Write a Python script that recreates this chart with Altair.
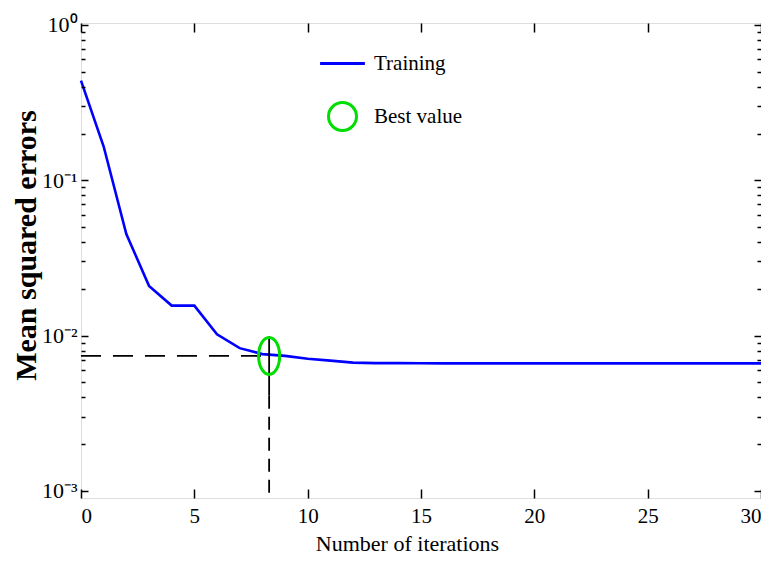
import altair as alt
import pandas as pd

# ---- data ----
iterations = list(range(31))
mse = [0.438, 0.165, 0.0451, 0.0209, 0.0156, 0.0156, 0.0102, 0.0083, 0.0076, 0.0074,
       0.0071, 0.0069, 0.0067, 0.00665, 0.00665, 0.00663, 0.00662, 0.00662, 0.00662,
       0.00662, 0.00662, 0.00662, 0.00662, 0.00662, 0.00662, 0.00662, 0.00662, 0.00662,
       0.00662, 0.00662, 0.00662]

best_x = 8.3
best_y = 0.0074
marker_line_top = 0.0099
marker_line_solid_end = 0.0041

x_domain = [0, 30]
y_domain = [0.0009, 1.03]

x_ticks = [0, 5, 10, 15, 20, 25, 30]
x_label_values = [0, 5, 10, 15, 20, 25]
x_last_label = [30]
y_major = [1, 0.1, 0.01, 0.001]
y_major_labels = ["10⁰", "10⁻¹", "10⁻²", "10⁻³"]
y_minor = [0.002, 0.003, 0.004, 0.005, 0.006, 0.007, 0.008, 0.009,
           0.02, 0.03, 0.04, 0.05, 0.06, 0.07, 0.08, 0.09,
           0.2, 0.3, 0.4, 0.5, 0.6, 0.7, 0.8, 0.9]

legend_names = ["Training", "Best value"]
legend_colors = ["#0000ff", "#00dd00"]

FONT = "Liberation Serif"
W, H = 680, 475

label_expr = " : ".join(
    f"datum.value == {v} ? '{t}'" for v, t in zip(y_major, y_major_labels)
) + " : ''"

xs = alt.Scale(domain=x_domain, nice=False, zero=False)
ys = alt.Scale(type="log", domain=y_domain, nice=False)


def tick_axis(orient, offset, values, size):
    return alt.Axis(orient=orient, offset=offset, values=values, labels=False,
                    ticks=True, tickSize=size, tickWidth=1.5, tickColor="black",
                    domain=False, grid=False, title=None, zindex=1)


curve = pd.DataFrame({"x": iterations, "y": mse})

line = alt.Chart(curve).mark_line(color="#0000ff", strokeWidth=2.6).encode(
    x=alt.X("x:Q", scale=xs, axis=alt.Axis(
        orient="bottom", values=x_label_values, format="d", ticks=False, domain=False,
        grid=False, labelFont=FONT, labelFontSize=21, labelColor="black", labelPadding=7,
        title="Number of iterations", titleFont=FONT, titleFontSize=22,
        titleFontWeight="normal", titleColor="black", titleX=326, titleY=52,
        titleBaseline="alphabetic")),
    y=alt.Y("y:Q", scale=ys, axis=alt.Axis(
        orient="left", values=y_major, labelExpr=label_expr, ticks=False, domain=False,
        grid=False, labelFont=FONT, labelFontSize=22, labelColor="black", labelPadding=4,
        title="Mean squared errors", titleFont=FONT, titleFontSize=30,
        titleFontWeight="bold", titleColor="black", titleY=222, titleX=-46,
        titleBaseline="alphabetic", titleAngle=270)),
)

hdf = pd.DataFrame({"x": [x_domain[0]], "x2": [best_x], "y": [best_y]})
hline = alt.Chart(hdf).mark_rule(color="black", strokeWidth=1.8, strokeDash=[20, 12]).encode(
    x=alt.X("x:Q", scale=xs, axis=tick_axis("top", -H, x_ticks, 9)),
    x2="x2:Q",
    y=alt.Y("y:Q", scale=ys, axis=tick_axis("right", -W, y_major, 7)),
)

vsdf = pd.DataFrame({"x": [best_x], "y": [marker_line_top], "y2": [marker_line_solid_end]})
vsolid = alt.Chart(vsdf).mark_rule(color="black", strokeWidth=1.8).encode(
    x=alt.X("x:Q", scale=xs, axis=tick_axis("bottom", -H, x_ticks, 9)),
    y=alt.Y("y:Q", scale=ys, axis=tick_axis("left", -W, y_major, 7)),
    y2="y2:Q",
)

vddf = pd.DataFrame({"x": [best_x], "y": [marker_line_solid_end], "y2": [y_domain[0]]})
vdash = alt.Chart(vddf).mark_rule(color="black", strokeWidth=1.8, strokeDash=[13, 8]).encode(
    x=alt.X("x:Q", scale=xs, axis=alt.Axis(
        orient="bottom", values=x_last_label, format="d", ticks=False, domain=False,
        grid=False, labelFont=FONT, labelFontSize=21, labelColor="black", labelPadding=7,
        labelAlign="right", title=None)),
    y=alt.Y("y:Q", scale=ys, axis=tick_axis("right", -W, y_minor, 4)),
    y2="y2:Q",
)

bdf = pd.DataFrame({"x": [best_x], "y": [best_y]})
ellipse_path = "M0,-1 A0.57,1 0 1,1 0,1 A0.57,1 0 1,1 0,-1 Z"
best = alt.Chart(bdf).mark_point(
    shape=ellipse_path, size=1369, filled=False, color=legend_colors[1], strokeWidth=3,
    opacity=1
).encode(
    x=alt.X("x:Q", scale=xs, axis=None),
    y=alt.Y("y:Q", scale=ys, axis=tick_axis("left", -W, y_minor, 4)),
)

leg_props = dict(orient="none", legendX=246, legendY=25, title=None, labelFont=FONT,
                 labelFontSize=21, labelColor="black", symbolSize=784,
                 symbolStrokeWidth=3, symbolOpacity=1, rowPadding=22, labelOffset=16,
                 padding=0)
ldf = pd.DataFrame({"series": legend_names, "x": [best_x, best_x], "y": [best_y, best_y]})
legend_layer = alt.Chart(ldf).transform_filter("false").mark_point(
    filled=False, strokeWidth=3, opacity=1
).encode(
    x=alt.X("x:Q", scale=xs, axis=None),
    y=alt.Y("y:Q", scale=ys, axis=None),
    color=alt.Color("series:N", scale=alt.Scale(domain=legend_names, range=legend_colors),
                    legend=alt.Legend(**leg_props)),
    shape=alt.Shape("series:N", scale=alt.Scale(domain=legend_names,
                                                range=["M-1.6,0L1.6,0", "circle"]),
                    legend=alt.Legend(**leg_props)),
)

chart = alt.layer(line, hline, vsolid, vdash, best, legend_layer).resolve_axis(
    x="independent", y="independent"
).properties(
    width=W, height=H,
    autosize=alt.AutoSizeParams(type="none"),
    padding={"left": 73, "top": 15, "right": 0, "bottom": 58},
).configure_view(stroke="black", strokeWidth=2).configure(background="white")

chart.save("out.html", embed_options={"renderer": "svg", "actions": False})
